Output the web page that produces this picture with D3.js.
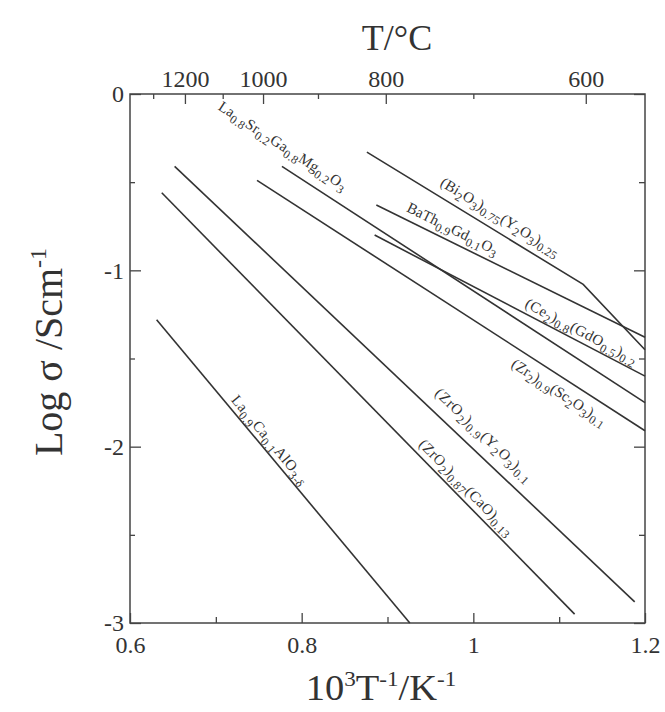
<!DOCTYPE html>
<html>
<head>
<meta charset="utf-8">
<script src="https://cdn.jsdelivr.net/npm/d3@7"></script>
<style>
body { margin: 0; background: #fff; }
svg text { font-family: "Liberation Serif", "Times New Roman", serif; fill: #333; }
</style>
</head>
<body>
<svg id="chart" width="665" height="712"></svg>
<script>
// conductivity lines, [1000/T (K^-1), log sigma (S/cm)]
const laCaAl = [[0.631, -1.28], [0.926, -3.0]];
const zrCa = [[0.637, -0.56], [1.118, -2.95]];
const zrY = [[0.652, -0.41], [1.188, -2.88]];
const zrSc = [[0.748, -0.49], [1.2, -1.91]];
const lsgm = [[0.777, -0.41], [1.2, -1.75]];
const biY = [[0.876, -0.33], [1.128, -1.08], [1.2, -1.45]];
const baTh = [[0.887, -0.63], [1.2, -1.38]];
const ceGd = [[0.885, -0.80], [1.2, -1.60]];

const seriesData = [laCaAl, zrCa, zrY, zrSc, lsgm, biY, baTh, ceGd];
const seriesNames = [
    'La_{0.9}Ca_{0.1}AlO_{3-δ}',
    '(ZrO_{2})_{0.87}(CaO)_{0.13}',
    '(ZrO_{2})_{0.9}(Y_{2}O_{3})_{0.1}',
    '(Zr_{2})_{0.9}(Sc_{2}O_{3})_{0.1}',
    'La_{0.8}Sr_{0.2}Ga_{0.8}Mg_{0.2}O_{3}',
    '(Bi_{2}O_{3})_{0.75}(Y_{2}O_{3})_{0.25}',
    'BaTh_{0.9}Gd_{0.1}O_{3}',
    '(Ce_{2})_{0.8}(GdO_{0.5})_{0.2}'
];

const xTicks = [0.6, 0.8, 1, 1.2];
const xMinor = [0.7, 0.9, 1.1];
const yTicks = [0, -1, -2, -3];
const yMinor = [-0.5, -1.5, -2.5];
// temperature scale on top, positions as drawn in the original (1000/T units)
const topTicks = [0.664, 0.755, 0.898, 1.131];
const topLabels = ['1200', '1000', '800', '600'];
const topMinor = [0.627, 0.708, 0.819, 1.0];

// label placement: centre (data units), length px, segment used for angle
const labelLayout = [
    {x: 0.7625, y: -1.962, len: 111, seg: 0},
    {x: 0.9915, y: -2.232, len: 128, seg: 0},
    {x: 1.0119, y: -1.934, len: 128, seg: 0},
    {x: 1.0998, y: -1.693, len: 110, seg: 0},
    {x: 0.7777, y: -0.295, len: 150, seg: 0},
    {x: 1.0311, y: -0.698, len: 137, seg: 0},
    {x: 0.9757, y: -0.766, len: 100, seg: 0},
    {x: 1.1255, y: -1.347, len: 124, seg: 0}
];

const svg = d3.select('#chart');
const mLeft = 130, mRight = 645, mTop = 94, mBottom = 623;

const x = d3.scaleLinear().domain([0.6, 1.2]).range([mLeft, mRight]);
const y = d3.scaleLinear().domain([-3, 0]).range([mBottom, mTop]);

const axisColor = '#444';

function styleAxis(g) {
    g.select('.domain').remove();
    g.selectAll('line').attr('stroke', axisColor).attr('stroke-width', 1.3);
    g.selectAll('text').attr('fill', '#333').style('font-family', '"Liberation Serif", serif');
}

// bottom
svg.append('g').attr('transform', `translate(0,${mBottom})`)
    .call(d3.axisBottom(x).tickValues(xTicks).tickSize(-10).tickPadding(13).tickFormat(d => String(d)))
    .call(styleAxis)
    .selectAll('text').attr('font-size', 24);
svg.append('g').attr('transform', `translate(0,${mBottom})`)
    .call(d3.axisBottom(x).tickValues(xMinor).tickSize(-6).tickFormat(''))
    .call(styleAxis);

// left
svg.append('g').attr('transform', `translate(${mLeft},0)`)
    .call(d3.axisLeft(y).tickValues(yTicks).tickSize(-11).tickPadding(6).tickFormat(d => String(d)))
    .call(styleAxis)
    .selectAll('text').attr('font-size', 24);
svg.append('g').attr('transform', `translate(${mLeft},0)`)
    .call(d3.axisLeft(y).tickValues(yMinor).tickSize(-5).tickFormat(''))
    .call(styleAxis);

// right
svg.append('g').attr('transform', `translate(${mRight},0)`)
    .call(d3.axisRight(y).tickValues(yTicks).tickSize(-11).tickFormat(''))
    .call(styleAxis);
svg.append('g').attr('transform', `translate(${mRight},0)`)
    .call(d3.axisRight(y).tickValues(yMinor).tickSize(-6).tickFormat(''))
    .call(styleAxis);

// top (temperature)
svg.append('g').attr('transform', `translate(0,${mTop})`)
    .call(d3.axisTop(x).tickValues(topTicks).tickSize(-10).tickPadding(7).tickFormat((d, i) => topLabels[i]))
    .call(styleAxis)
    .selectAll('text').attr('font-size', 24);
svg.append('g').attr('transform', `translate(0,${mTop})`)
    .call(d3.axisTop(x).tickValues(topMinor).tickSize(-5).tickFormat(''))
    .call(styleAxis);

// frame
svg.append('rect')
    .attr('x', mLeft).attr('y', mTop)
    .attr('width', mRight - mLeft).attr('height', mBottom - mTop)
    .attr('fill', 'none').attr('stroke', axisColor).attr('stroke-width', 1.5);

// lines
const line = d3.line().x(d => x(d[0])).y(d => y(d[1]));
svg.append('g').selectAll('path')
    .data(seriesData)
    .join('path')
    .attr('d', line)
    .attr('fill', 'none')
    .attr('stroke', '#333')
    .attr('stroke-width', 1.6);

// text with _{sub} and ^{sup}
function richText(text, str, fs, scale) {
    const tokens = str.match(/_\{[^}]*\}|\^\{[^}]*\}|[^_^]+/g);
    let shift = 0;
    tokens.forEach(tok => {
        let target = 0, txt = tok, size = fs;
        if (tok[0] === '_') { target = fs * 0.28; txt = tok.slice(2, -1); size = fs * scale; }
        else if (tok[0] === '^') { target = -fs * 0.4; txt = tok.slice(2, -1); size = fs * scale; }
        text.append('tspan').attr('dy', target - shift).attr('font-size', size).text(txt);
        shift = target;
    });
}

const labelSize = 15;
seriesNames.forEach((name, i) => {
    const lay = labelLayout[i];
    const pts = seriesData[i];
    const p0 = pts[lay.seg], p1 = pts[lay.seg + 1];
    const ang = Math.atan2(y(p1[1]) - y(p0[1]), x(p1[0]) - x(p0[0])) * 180 / Math.PI;
    const t = svg.append('g')
        .attr('transform', `translate(${x(lay.x)},${y(lay.y)}) rotate(${ang})`)
        .append('text')
        .attr('text-anchor', 'middle')
        .attr('y', labelSize * 0.3)
        .attr('font-size', labelSize)
        .attr('textLength', lay.len)
        .attr('lengthAdjust', 'spacing');
    richText(t, name, labelSize, 0.8);
});

// titles
svg.append('text')
    .attr('x', 397).attr('y', 50)
    .attr('text-anchor', 'middle')
    .attr('font-size', 36)
    .text('T/°C');

const xt = svg.append('text')
    .attr('transform', 'translate(381,700) scale(1.1,1)')
    .attr('text-anchor', 'middle')
    .attr('font-size', 35);
richText(xt, '10^{3}T^{-1}/K^{-1}', 35, 0.6);

const yt = svg.append('text')
    .attr('transform', 'translate(62,352) rotate(-90)')
    .attr('text-anchor', 'middle')
    .attr('font-size', 40);
richText(yt, 'Log σ /Scm^{-1}', 40, 0.6);
</script>
</body>
</html>
